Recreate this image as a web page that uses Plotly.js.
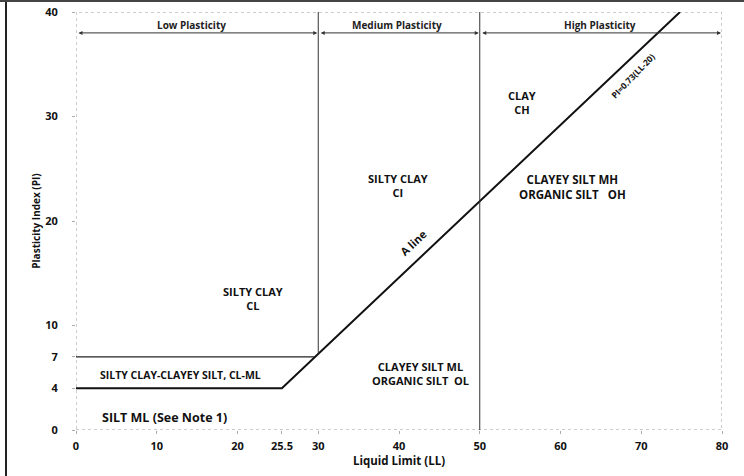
<!DOCTYPE html>
<html>
<head>
<meta charset="utf-8">
<script src="https://cdn.plot.ly/plotly-3.0.1.min.js"></script>
<style>
  html, body { margin: 0; padding: 0; background: #fff; }
  #wrap { position: relative; width: 744px; height: 476px; overflow: hidden; }
  #chart { width: 744px; height: 476px; }
  #edgeL { position: absolute; left: 5px; top: 0; width: 2px; height: 476px; background: #222; }
  #edgeT { position: absolute; left: 0; top: 0; width: 744px; height: 2px; background: #444; }
</style>
</head>
<body>
<div id="wrap">
  <div id="chart"></div>
  <div id="edgeL"></div>
  <div id="edgeT"></div>
</div>
<script>
// ---- data ----
var xTickVals = [0, 10, 20, 25.5, 30, 40, 50, 60, 70, 80];
var xTickText = ["0", "10", "20", "25.5", "30", "40", "50", "60", "70", "80"];
var yTickVals = [0, 4, 7, 10, 20, 30, 40];
var yTickText = ["0", "4", "7", "10", "20", "30", "40"];

// A-line: PI = 0.73(LL-20), with the PI=4 floor
var aLineLL = [0, 25.5, 74.8];
var aLinePI = [4, 4, 40];
// CL-ML upper boundary PI = 7
var pi7LL = [0, 29.6];
var pi7PI = [7, 7];
// plasticity boundaries
var lowMedLL = [30, 30];
var lowMedPI = [7.3, 40];
var medHighLL = [50, 50];
var medHighPI = [0, 40];

// plasticity range arrows
var rangeNames = ["Low Plasticity", "Medium Plasticity", "High Plasticity"];
var rangeStart = [0, 30, 50];
var rangeEnd = [30, 50, 80];
var rangePI = 38.0;

// zone labels
var zoneText = [
  "SILTY CLAY<br>CL",
  "SILTY CLAY<br>CI",
  "CLAY<br>CH",
  "CLAYEY SILT MH<br>ORGANIC SILT   OH",
  "CLAYEY SILT ML<br>ORGANIC SILT  OL",
  "SILTY CLAY-CLAYEY SILT, CL-ML"
];
var siltText = "SILT ML (See Note 1)";

var FONT = "Open Sans, Liberation Sans, sans-serif";

// label placement (not data)
var rangeLabelX = [14.3, 39.7, 64.9];
var zoneLL = [21.9, 39.9, 55.2, 61.5, 42.6, 12.9];
var zonePI = [12.6, 23.4, 31.3, 23.3, 5.4, 5.3];
var zoneSize = [11, 11, 11, 11.5, 11, 10.5];

var traces = [
  {x: aLineLL, y: aLinePI, mode: "lines", line: {color: "#111", width: 2}, hoverinfo: "skip"},
  {x: pi7LL, y: pi7PI, mode: "lines", line: {color: "#222", width: 1.2}, hoverinfo: "skip"},
  {x: lowMedLL, y: lowMedPI, mode: "lines", line: {color: "#333", width: 1}, hoverinfo: "skip"},
  {x: medHighLL, y: medHighPI, mode: "lines", line: {color: "#333", width: 1}, hoverinfo: "skip"}
];

var annotations = [];
for (var i = 0; i < rangeNames.length; i++) {
  annotations.push({
    x: rangeEnd[i], y: rangePI, ax: rangeStart[i], ay: rangePI,
    xref: "x", yref: "y", axref: "x", ayref: "y",
    text: "", showarrow: true, arrowhead: 2, startarrowhead: 2,
    arrowside: "end+start", arrowsize: 0.8, startarrowsize: 0.8,
    arrowwidth: 1, arrowcolor: "#333", standoff: 1, startstandoff: 1
  });
  annotations.push({
    x: rangeLabelX[i], y: rangePI, xref: "x", yref: "y", yanchor: "bottom",
    yshift: -1, text: rangeNames[i], showarrow: false,
    font: {family: FONT, size: 10, color: "#222", weight: "bold"}
  });
}
for (var j = 0; j < zoneText.length; j++) {
  annotations.push({
    x: zoneLL[j], y: zonePI[j], xref: "x", yref: "y", text: zoneText[j],
    showarrow: false, align: "center",
    font: {family: FONT, size: zoneSize[j], color: "#111", weight: "bold"}
  });
}
annotations.push({
  x: 11.0, y: 1.15, xref: "x", yref: "y", text: siltText, showarrow: false,
  font: {family: FONT, size: 12.5, color: "#111", weight: "bold"}
});
annotations.push({
  x: 41.8, y: 17.9, xref: "x", yref: "y", text: "A line", showarrow: false,
  textangle: -43.4, font: {family: FONT, size: 11, color: "#111", weight: "bold"}
});
annotations.push({
  x: 69.0, y: 33.9, xref: "x", yref: "y", text: "PI=0.73(LL-20)", showarrow: false,
  textangle: -46, font: {family: FONT, size: 8.5, color: "#111", weight: "bold"}
});

var layout = {
  width: 744, height: 476,
  margin: {l: 76, r: 22, t: 12, b: 46},
  paper_bgcolor: "#fff", plot_bgcolor: "#fff",
  showlegend: false,
  xaxis: {
    range: [0, 80], tickmode: "array", tickvals: xTickVals, ticktext: xTickText,
    showgrid: false, zeroline: false, showline: false,
    ticks: "outside", ticklen: 3, tickcolor: "#aaa", ticklabelstandoff: 3,
    tickfont: {family: FONT, size: 11, color: "#111", weight: "bold"},
    title: {text: "Liquid Limit (LL)", standoff: 3,
            font: {family: FONT, size: 11.5, color: "#111", weight: "bold"}}
  },
  yaxis: {
    range: [0, 40], tickmode: "array", tickvals: yTickVals, ticktext: yTickText,
    showgrid: false, zeroline: false, showline: false,
    ticks: "outside", ticklen: 3, tickcolor: "#aaa", ticklabelstandoff: 12,
    tickfont: {family: FONT, size: 11, color: "#111", weight: "bold"},
    title: {text: "Plasticity Index (PI)", standoff: 2,
            font: {family: FONT, size: 10, color: "#111", weight: "bold"}}
  },
  shapes: [
    {type: "rect", xref: "x", yref: "y", x0: 0, x1: 80, y0: 0, y1: 40,
     line: {color: "#999", width: 1, dash: "dot"}, layer: "below"}
  ],
  annotations: annotations
};

Plotly.newPlot("chart", traces, layout, {displayModeBar: false, staticPlot: true});
</script>
</body>
</html>
